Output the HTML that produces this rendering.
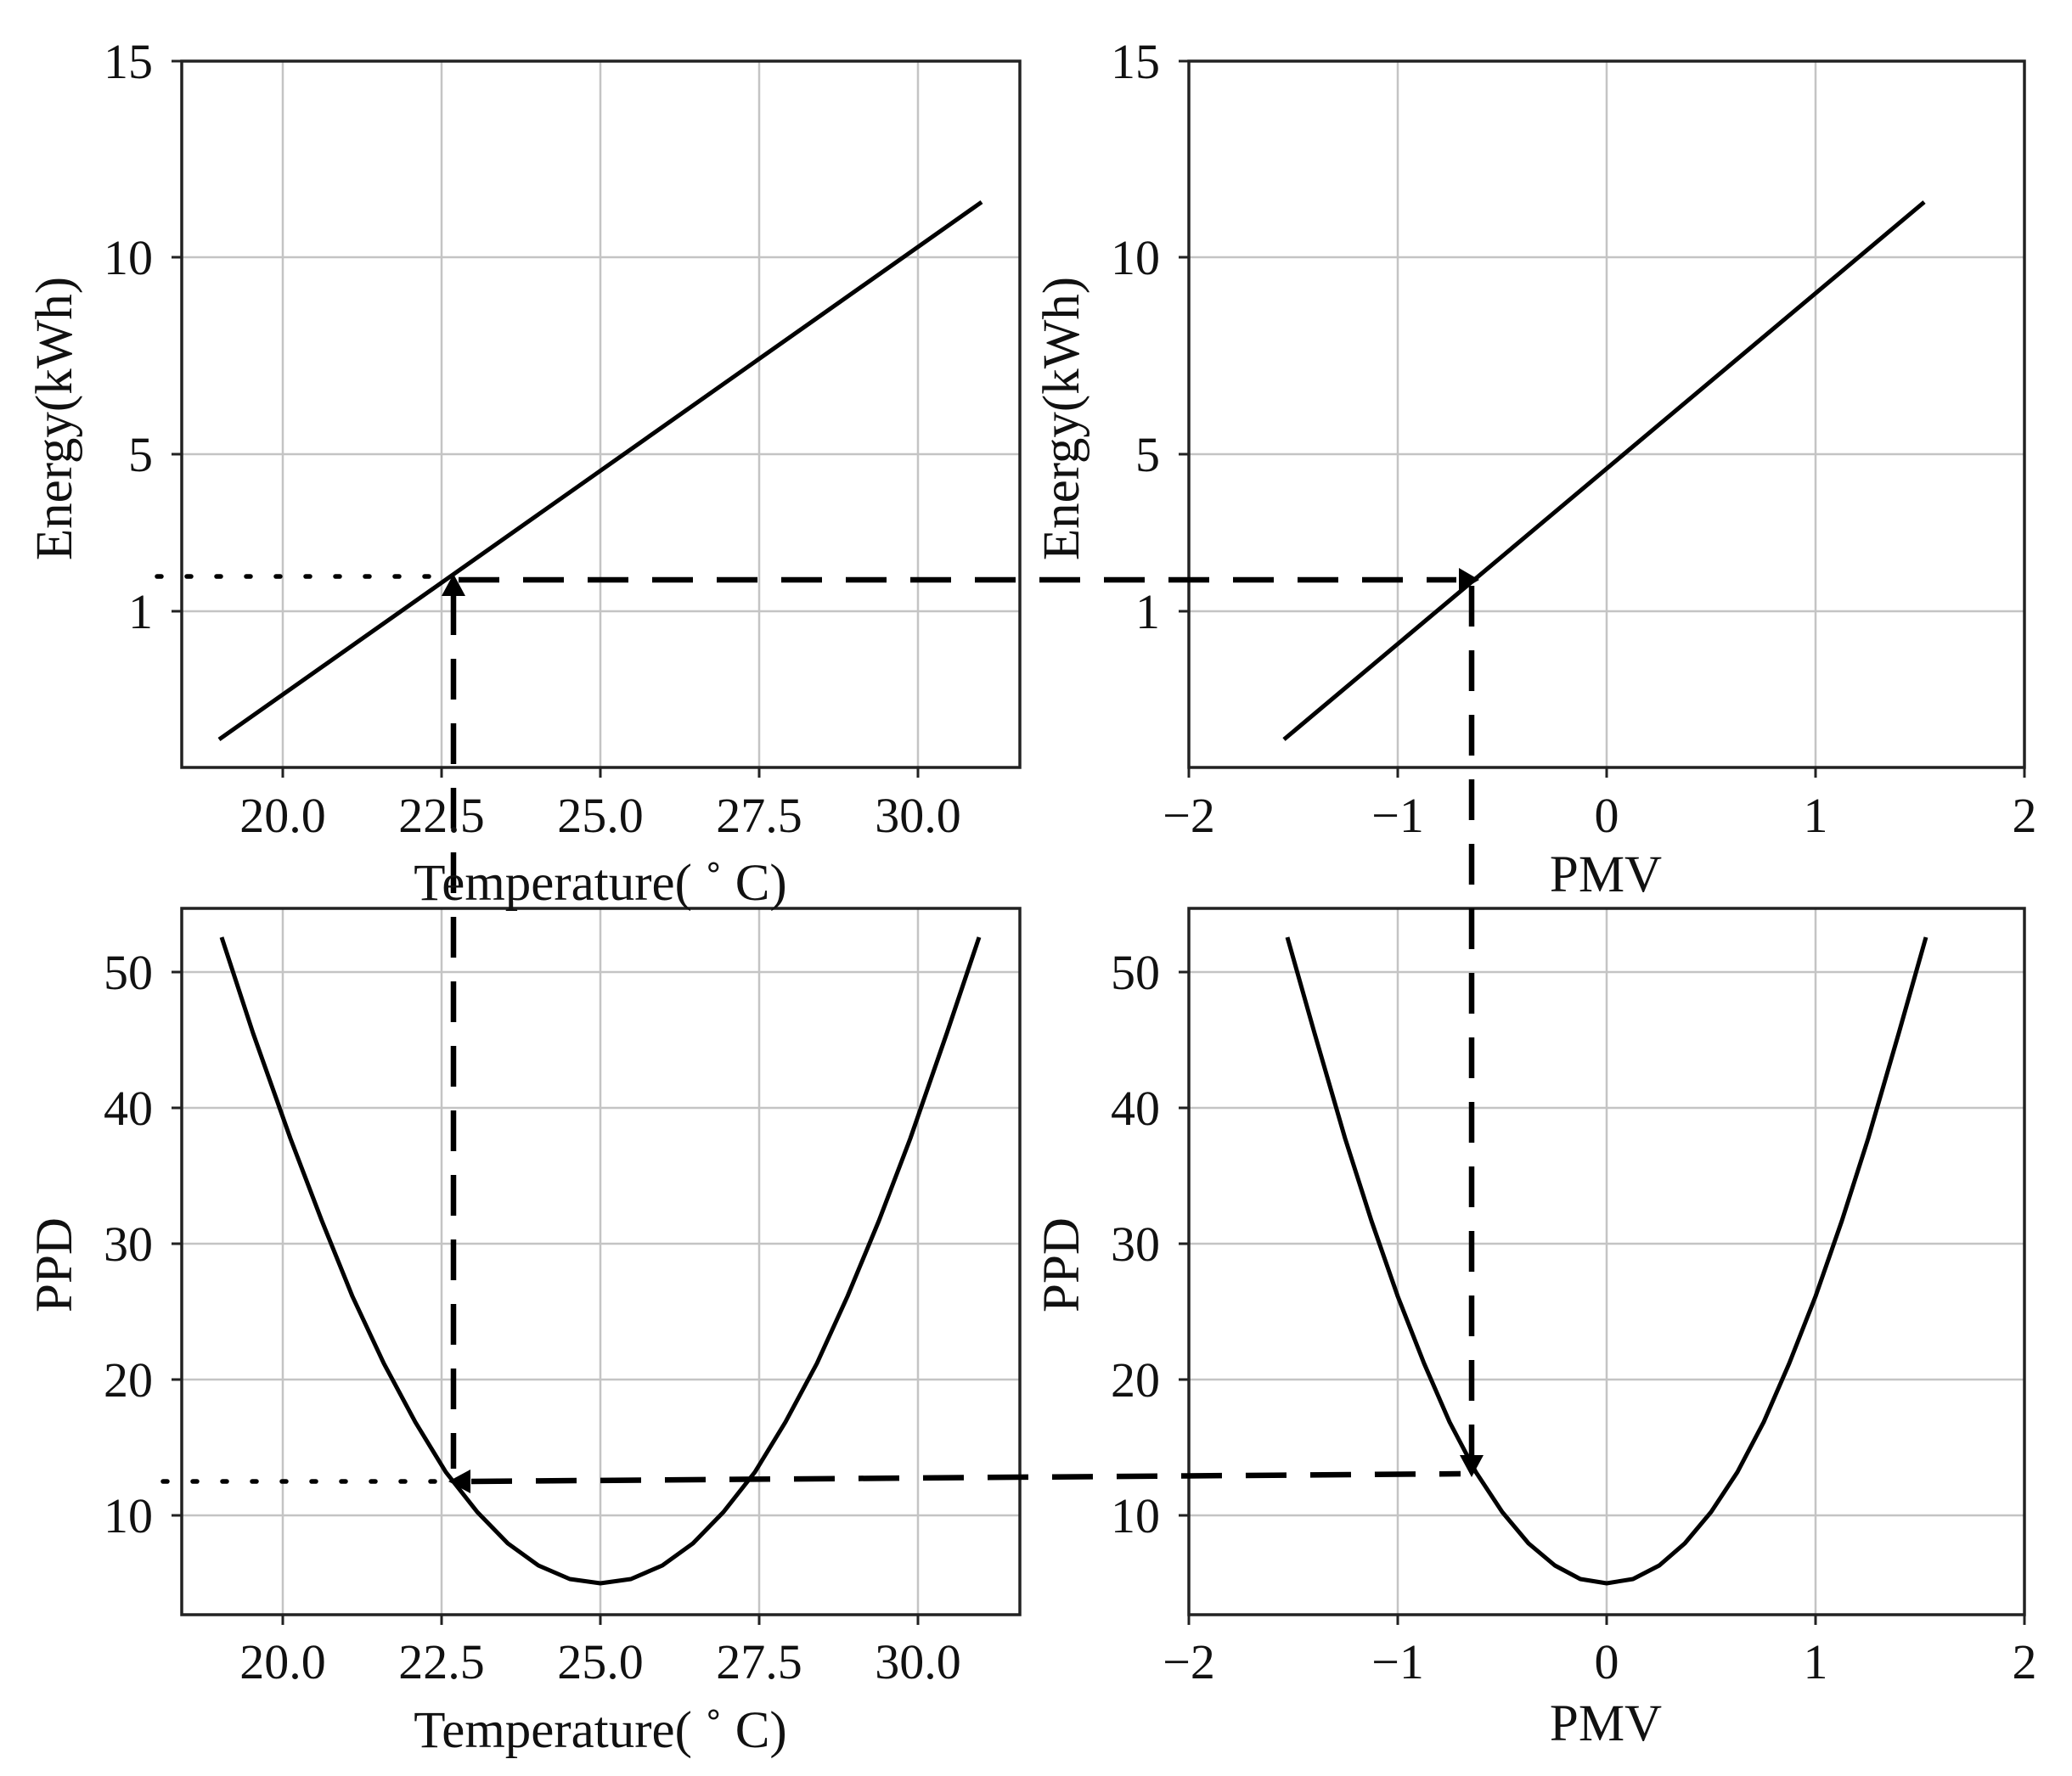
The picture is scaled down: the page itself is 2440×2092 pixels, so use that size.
<!DOCTYPE html>
<html><head><meta charset="utf-8"><style>
html,body{margin:0;padding:0;background:#fff}
svg{display:block}
text{font-family:"Liberation Serif",serif;fill:#111}
</style></head><body>
<svg width="2440" height="2092" viewBox="0 0 2440 2092" xmlns="http://www.w3.org/2000/svg">
<g stroke="#c4c4c4" stroke-width="2.5">
<line x1="333" y1="72" x2="333" y2="904"/><line x1="520" y1="72" x2="520" y2="904"/><line x1="707" y1="72" x2="707" y2="904"/><line x1="894" y1="72" x2="894" y2="904"/><line x1="1081" y1="72" x2="1081" y2="904"/>
<line x1="214" y1="303" x2="1201" y2="303"/><line x1="214" y1="535" x2="1201" y2="535"/><line x1="214" y1="720" x2="1201" y2="720"/>
<line x1="1646" y1="72" x2="1646" y2="904"/><line x1="1892" y1="72" x2="1892" y2="904"/><line x1="2138" y1="72" x2="2138" y2="904"/>
<line x1="1400" y1="303" x2="2384" y2="303"/><line x1="1400" y1="535" x2="2384" y2="535"/><line x1="1400" y1="720" x2="2384" y2="720"/>
<line x1="333" y1="1070" x2="333" y2="1902"/><line x1="520" y1="1070" x2="520" y2="1902"/><line x1="707" y1="1070" x2="707" y2="1902"/><line x1="894" y1="1070" x2="894" y2="1902"/><line x1="1081" y1="1070" x2="1081" y2="1902"/>
<line x1="214" y1="1145" x2="1201" y2="1145"/><line x1="214" y1="1305" x2="1201" y2="1305"/><line x1="214" y1="1465" x2="1201" y2="1465"/><line x1="214" y1="1625" x2="1201" y2="1625"/><line x1="214" y1="1785" x2="1201" y2="1785"/>
<line x1="1646" y1="1070" x2="1646" y2="1902"/><line x1="1892" y1="1070" x2="1892" y2="1902"/><line x1="2138" y1="1070" x2="2138" y2="1902"/>
<line x1="1400" y1="1145" x2="2384" y2="1145"/><line x1="1400" y1="1305" x2="2384" y2="1305"/><line x1="1400" y1="1465" x2="2384" y2="1465"/><line x1="1400" y1="1625" x2="2384" y2="1625"/><line x1="1400" y1="1785" x2="2384" y2="1785"/>
</g>
<g fill="none" stroke="#222" stroke-width="3.5">
<rect x="214" y="72" width="987" height="832"/>
<rect x="1400" y="72" width="984" height="832"/>
<rect x="214" y="1070" width="987" height="832"/>
<rect x="1400" y="1070" width="984" height="832"/>
</g>
<g stroke="#222" stroke-width="3">
<line x1="333" y1="904" x2="333" y2="916"/><line x1="520" y1="904" x2="520" y2="916"/><line x1="707" y1="904" x2="707" y2="916"/><line x1="894" y1="904" x2="894" y2="916"/><line x1="1081" y1="904" x2="1081" y2="916"/>
<line x1="202" y1="72" x2="214" y2="72"/><line x1="202" y1="303" x2="214" y2="303"/><line x1="202" y1="535" x2="214" y2="535"/><line x1="202" y1="720" x2="214" y2="720"/>
<line x1="1400" y1="904" x2="1400" y2="916"/><line x1="1646" y1="904" x2="1646" y2="916"/><line x1="1892" y1="904" x2="1892" y2="916"/><line x1="2138" y1="904" x2="2138" y2="916"/><line x1="2384" y1="904" x2="2384" y2="916"/>
<line x1="1388" y1="72" x2="1400" y2="72"/><line x1="1388" y1="303" x2="1400" y2="303"/><line x1="1388" y1="535" x2="1400" y2="535"/><line x1="1388" y1="720" x2="1400" y2="720"/>
<line x1="333" y1="1902" x2="333" y2="1914"/><line x1="520" y1="1902" x2="520" y2="1914"/><line x1="707" y1="1902" x2="707" y2="1914"/><line x1="894" y1="1902" x2="894" y2="1914"/><line x1="1081" y1="1902" x2="1081" y2="1914"/>
<line x1="202" y1="1145" x2="214" y2="1145"/><line x1="202" y1="1305" x2="214" y2="1305"/><line x1="202" y1="1465" x2="214" y2="1465"/><line x1="202" y1="1625" x2="214" y2="1625"/><line x1="202" y1="1785" x2="214" y2="1785"/>
<line x1="1400" y1="1902" x2="1400" y2="1914"/><line x1="1646" y1="1902" x2="1646" y2="1914"/><line x1="1892" y1="1902" x2="1892" y2="1914"/><line x1="2138" y1="1902" x2="2138" y2="1914"/><line x1="2384" y1="1902" x2="2384" y2="1914"/>
<line x1="1388" y1="1145" x2="1400" y2="1145"/><line x1="1388" y1="1305" x2="1400" y2="1305"/><line x1="1388" y1="1465" x2="1400" y2="1465"/><line x1="1388" y1="1625" x2="1400" y2="1625"/><line x1="1388" y1="1785" x2="1400" y2="1785"/>
</g>
<g fill="none" stroke="#000" stroke-width="5" stroke-linejoin="round">
<line x1="258" y1="871" x2="1156" y2="238"/>
<line x1="1512" y1="871" x2="2266" y2="238"/>
<polyline points="261,1104 298,1217 342,1341 379,1438 415,1527 452,1606 489,1675 525,1734 562,1781 598,1818 634,1844 671,1860 707,1865 743,1860 780,1844 816,1818 852,1781 889,1734 925,1675 962,1606 998,1527 1035,1438 1072,1341 1115,1217 1153,1104"/>
<polyline points="1516,1104 1548,1217 1584,1341 1615,1438 1646,1527 1677,1606 1707,1675 1738,1734 1769,1781 1800,1818 1831,1844 1861,1860 1892,1865 1923,1860 1954,1844 1984,1818 2015,1781 2046,1734 2077,1675 2107,1606 2138,1527 2169,1438 2200,1341 2236,1217 2268,1104"/>
</g>
<g fill="none" stroke="#000" stroke-width="6.5">
<line x1="185" y1="679" x2="516" y2="679" stroke-width="5.5" stroke-dasharray="5 30" stroke-linecap="round"/>
<line x1="192" y1="1745" x2="516" y2="1745" stroke-width="5.5" stroke-dasharray="5 30" stroke-linecap="round"/>
<line x1="540" y1="683" x2="1715" y2="683" stroke-dasharray="48 28"/>
<line x1="534" y1="700" x2="534" y2="1730" stroke-dasharray="48 28"/>
<line x1="1733" y1="690" x2="1733" y2="1715" stroke-dasharray="48 28"/>
<line x1="555" y1="1745" x2="1720" y2="1736" stroke-dasharray="48 28"/>
</g>
<g fill="#000">
<polygon points="534,676 520,702 548,702"/>
<polygon points="1742,683 1718,669 1718,697"/>
<polygon points="1733,1740 1719,1714 1747,1714"/>
<polygon points="528,1745 554,1731 554,1759"/>
</g>
<g font-size="58" text-anchor="end">
<text x="180" y="92">15</text><text x="180" y="323">10</text><text x="180" y="555">5</text><text x="180" y="740">1</text>
<text x="1366" y="92">15</text><text x="1366" y="323">10</text><text x="1366" y="555">5</text><text x="1366" y="740">1</text>
<text x="180" y="1165">50</text><text x="180" y="1325">40</text><text x="180" y="1485">30</text><text x="180" y="1645">20</text><text x="180" y="1805">10</text>
<text x="1366" y="1165">50</text><text x="1366" y="1325">40</text><text x="1366" y="1485">30</text><text x="1366" y="1645">20</text><text x="1366" y="1805">10</text>
</g>
<g font-size="58" text-anchor="middle">
<text x="333" y="980">20.0</text><text x="520" y="980">22.5</text><text x="707" y="980">25.0</text><text x="894" y="980">27.5</text><text x="1081" y="980">30.0</text>
<text x="1400" y="980">−2</text><text x="1646" y="980">−1</text><text x="1892" y="980">0</text><text x="2138" y="980">1</text><text x="2384" y="980">2</text>
<text x="333" y="1977">20.0</text><text x="520" y="1977">22.5</text><text x="707" y="1977">25.0</text><text x="894" y="1977">27.5</text><text x="1081" y="1977">30.0</text>
<text x="1400" y="1977">−2</text><text x="1646" y="1977">−1</text><text x="1892" y="1977">0</text><text x="2138" y="1977">1</text><text x="2384" y="1977">2</text>
</g>
<g font-size="61" text-anchor="middle">
<text x="707" y="1060">Temperature( ˚ C)</text>
<text x="1891" y="1050">PMV</text>
<text x="707" y="2058">Temperature( ˚ C)</text>
<text x="1891" y="2050">PMV</text>
<text transform="translate(84,493) rotate(-90)">Energy(kWh)</text>
<text transform="translate(1270,493) rotate(-90)">Energy(kWh)</text>
<text transform="translate(84,1490) rotate(-90)">PPD</text>
<text transform="translate(1270,1490) rotate(-90)">PPD</text>
</g>
</svg>
</body></html>
